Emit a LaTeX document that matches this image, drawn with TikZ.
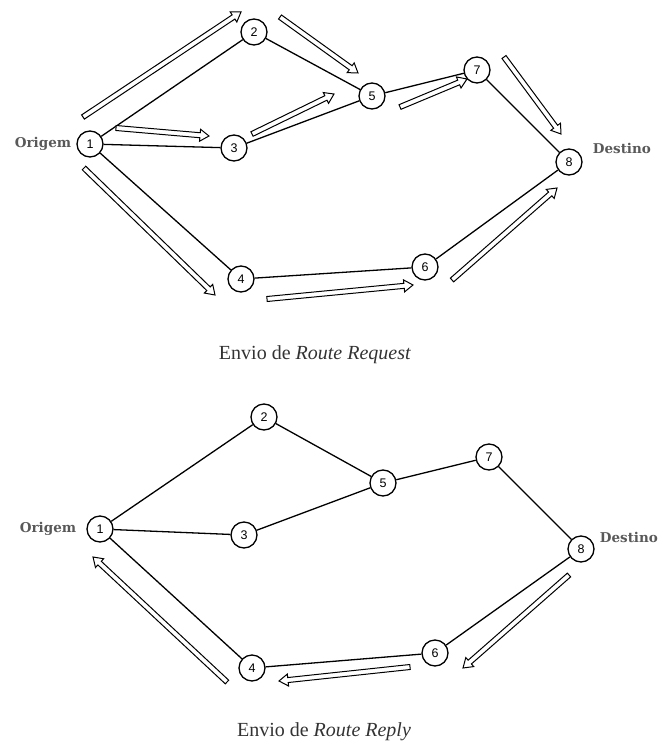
\documentclass[tikz,border=0pt]{standalone}
\usepackage{fontspec}
\setmainfont{Liberation Serif}
\newfontfamily\sidefont{DejaVu Serif}
\newfontfamily\numfont{Liberation Sans}
\usetikzlibrary{positioning,calc}

% hollow message arrow from #1 (tail) to #2 (tip)
\newcommand{\msg}[2]{%
  \draw[msgarrow] ($(#1)!2.5pt!90:(#2)$)
    -- ($(#2)!9pt!(#1)!2.5pt!-90:(#1)$)
    -- ($(#2)!9pt!(#1)!6pt!-90:(#1)$)
    -- (#2)
    -- ($(#2)!9pt!(#1)!6pt!90:(#1)$)
    -- ($(#2)!9pt!(#1)!2.5pt!90:(#1)$)
    -- ($(#1)!2.5pt!-90:(#2)$) -- cycle;}

\begin{document}
\begin{tikzpicture}[x=1pt, y=-1pt,
  host/.style={draw, circle, line width=1.3pt, minimum size=26pt, inner sep=0pt,
    font=\numfont\fontsize{12.5}{12.5}\selectfont},
  link/.style={line width=1.3pt},
  msgarrow/.style={line width=1pt, fill=white, line join=miter},
  side/.style={inner sep=0pt, text=black!65, font=\sidefont\bfseries\fontsize{13.5}{13.5}\selectfont},
  caption/.style={inner sep=0pt, text=black!80, font=\fontsize{20}{20}\selectfont}]
  \useasboundingbox (0,0) rectangle (657,746);

  % Route Request
  \node[host] (rq1) at (90,144) {1};
  \node[host] (rq2) at (254,32) {2};
  \node[host] (rq3) at (234,148) {3};
  \node[host] (rq4) at (241,279) {4};
  \node[host] (rq5) at (372,96) {5};
  \node[host] (rq6) at (425,267) {6};
  \node[host] (rq7) at (477,70) {7};
  \node[host] (rq8) at (569,162) {8};
  \node[side] (rqorig) [left=5pt of rq1] {Origem};
  \node[side] (rqdest) [right=10pt of rq8, yshift=14pt] {Destino};
  \node[caption] (rqcap) at (315,355) {Envio de \textit{Route Request}};

  \draw[link] (rq1) -- (rq2);
  \draw[link] (rq1) -- (rq3);
  \draw[link] (rq1) -- (rq4);
  \draw[link] (rq2) -- (rq5);
  \draw[link] (rq3) -- (rq5);
  \draw[link] (rq5) -- (rq7);
  \draw[link] (rq7) -- (rq8);
  \draw[link] (rq4) -- (rq6);
  \draw[link] (rq6) -- (rq8);

  \coordinate (rq12s) at (83,117);  \coordinate (rq12e) at (241,12);
  \coordinate (rq25s) at (280,17);  \coordinate (rq25e) at (358,73);
  \coordinate (rq13s) at (116,128); \coordinate (rq13e) at (209,136);
  \coordinate (rq35s) at (252,134); \coordinate (rq35e) at (334,94);
  \coordinate (rq57s) at (400,107); \coordinate (rq57e) at (467,79);
  \coordinate (rq78s) at (504,57);  \coordinate (rq78e) at (561,134);
  \coordinate (rq14s) at (84,168);  \coordinate (rq14e) at (215,295);
  \coordinate (rq46s) at (267,299); \coordinate (rq46e) at (413,285);
  \coordinate (rq68s) at (452,280); \coordinate (rq68e) at (557,188);
  \msg{rq12s}{rq12e}
  \msg{rq25s}{rq25e}
  \msg{rq13s}{rq13e}
  \msg{rq35s}{rq35e}
  \msg{rq57s}{rq57e}
  \msg{rq78s}{rq78e}
  \msg{rq14s}{rq14e}
  \msg{rq46s}{rq46e}
  \msg{rq68s}{rq68e}

  % Route Reply
  \node[host] (rp1) at (100,529) {1};
  \node[host] (rp2) at (264,417) {2};
  \node[host] (rp3) at (244,535) {3};
  \node[host] (rp4) at (252,668) {4};
  \node[host] (rp5) at (383,483) {5};
  \node[host] (rp6) at (435,653) {6};
  \node[host] (rp7) at (489,457) {7};
  \node[host] (rp8) at (581,549) {8};
  \node[side] (rporig) [left=10pt of rp1] {Origem};
  \node[side] (rpdest) [right=5pt of rp8, yshift=12pt] {Destino};
  \node[caption] (rpcap) at (324,732) {Envio de \textit{Route Reply}};

  \draw[link] (rp1) -- (rp2);
  \draw[link] (rp1) -- (rp3);
  \draw[link] (rp1) -- (rp4);
  \draw[link] (rp2) -- (rp5);
  \draw[link] (rp3) -- (rp5);
  \draw[link] (rp5) -- (rp7);
  \draw[link] (rp7) -- (rp8);
  \draw[link] (rp4) -- (rp6);
  \draw[link] (rp6) -- (rp8);

  \coordinate (rp86s) at (569,575); \coordinate (rp86e) at (463,668);
  \coordinate (rp64s) at (410,667); \coordinate (rp64e) at (279,681);
  \coordinate (rp41s) at (227,682); \coordinate (rp41e) at (93,557);
  \msg{rp86s}{rp86e}
  \msg{rp64s}{rp64e}
  \msg{rp41s}{rp41e}
\end{tikzpicture}
\end{document}
